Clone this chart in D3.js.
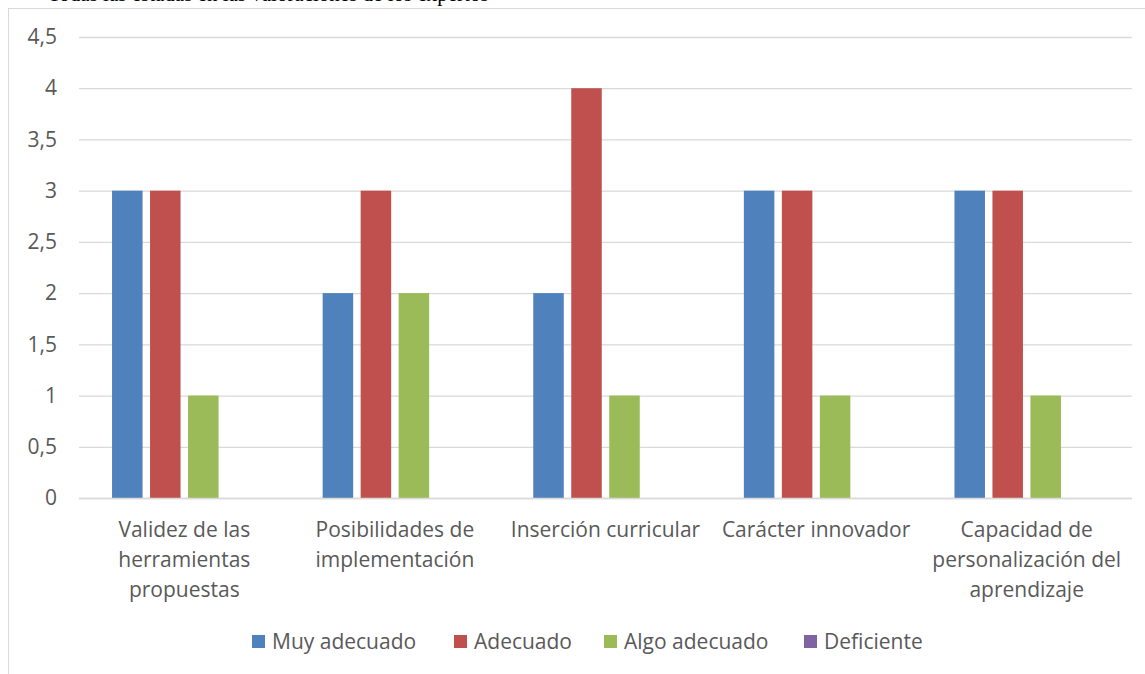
<!DOCTYPE html>
<html><head><meta charset="utf-8">
<script src="https://cdn.jsdelivr.net/npm/d3@7"></script>
<style>body{margin:0;background:#fff;overflow:hidden}svg{display:block}</style>
</head><body>
<svg id="c" width="1145" height="674"></svg>
<script>
const categories = [
  ["Validez de las","herramientas","propuestas"],
  ["Posibilidades de","implementación"],
  ["Inserción curricular"],
  ["Carácter innovador"],
  ["Capacidad de","personalización del","aprendizaje"]
];
const seriesNames = ["Muy adecuado","Adecuado","Algo adecuado","Deficiente"];
const muyAdecuado = [3,2,2,3,3];
const adecuado = [3,3,4,3,3];
const algoAdecuado = [1,2,1,1,1];
const deficiente = [0,0,0,0,0];
const seriesColors = ["#4F81BD","#C0504D","#9BBB59","#8064A2"];
const yTicks = [0,0.5,1,1.5,2,2.5,3,3.5,4,4.5];
const captionText = "Todas las estadas en las valoraciones de los expertos";

const series = [muyAdecuado, adecuado, algoAdecuado, deficiente];
const svg = d3.select("#c");
const font = "'Open Sans', sans-serif";
const textColor = "#595959";

// caption (cut off at top, as in the source)
svg.append("text").attr("x",48).attr("y",1).attr("font-family","'Liberation Serif', serif")
  .attr("font-size",21).attr("fill","#000").text(captionText);

// chart border
svg.append("rect").attr("x",8.5).attr("y",8.5).attr("width",1160).attr("height",700)
  .attr("fill","none").attr("stroke","#D9D9D9").attr("stroke-width",1);

const pLeft = 79, pRight = 1132, pTop = 37, pBottom = 498;
const y = d3.scaleLinear().domain([0,4.5]).range([pBottom, pTop]);
const x0 = d3.scaleBand().domain(d3.range(categories.length)).range([pLeft,pRight]);
const x1 = d3.scaleBand().domain(d3.range(series.length)).range([0, x0.bandwidth()])
  .paddingOuter(0.87).paddingInner(0.197);

// gridlines
const yAxis = d3.axisLeft(y).tickValues(yTicks).tickSize(-(pRight-pLeft)).tickPadding(22)
  .tickFormat(d => String(d).replace(".", ","));
const gy = svg.append("g").attr("transform",`translate(${pLeft},0)`).call(yAxis);
gy.select(".domain").remove();
gy.selectAll(".tick line").attr("stroke","#D9D9D9").attr("stroke-width",1.3);
gy.selectAll(".tick text").attr("fill",textColor).attr("font-family",font).attr("font-size",21);

// bars
const groups = svg.append("g").selectAll("g").data(categories).join("g")
  .attr("transform",(d,i)=>`translate(${x0(i)},0)`);
groups.selectAll("rect").data((d,i)=>series.map((s,k)=>({k, v:s[i]}))).join("rect")
  .attr("x",d=>x1(d.k)).attr("width",x1.bandwidth())
  .attr("y",d=>y(d.v)).attr("height",d=>y(0)-y(d.v))
  .attr("fill",d=>seriesColors[d.k]);

// x axis line
svg.append("line").attr("x1",pLeft).attr("x2",pRight).attr("y1",y(0)+0.5).attr("y2",y(0)+0.5)
  .attr("stroke","#D9D9D9").attr("stroke-width",1.3);

// category labels
const xl = svg.append("g");
categories.forEach((lines,i)=>{
  const cx = x0(i)+x0.bandwidth()/2;
  const t = xl.append("text").attr("x",cx).attr("y",537)
    .attr("text-anchor","middle").attr("fill",textColor).attr("font-family",font).attr("font-size",21);
  lines.forEach((ln,j)=>t.append("tspan").attr("x",cx).attr("dy",j?30:0).text(ln));
});

// legend
const legendX = [252, 454, 604, 804];
const lg = svg.append("g");
seriesNames.forEach((n,k)=>{
  lg.append("rect").attr("x",legendX[k]).attr("y",635).attr("width",13).attr("height",13).attr("fill",seriesColors[k]);
  lg.append("text").attr("x",legendX[k]+20).attr("y",649).attr("fill",textColor)
    .attr("font-family",font).attr("font-size",21).text(n);
});
</script>
</body></html>
